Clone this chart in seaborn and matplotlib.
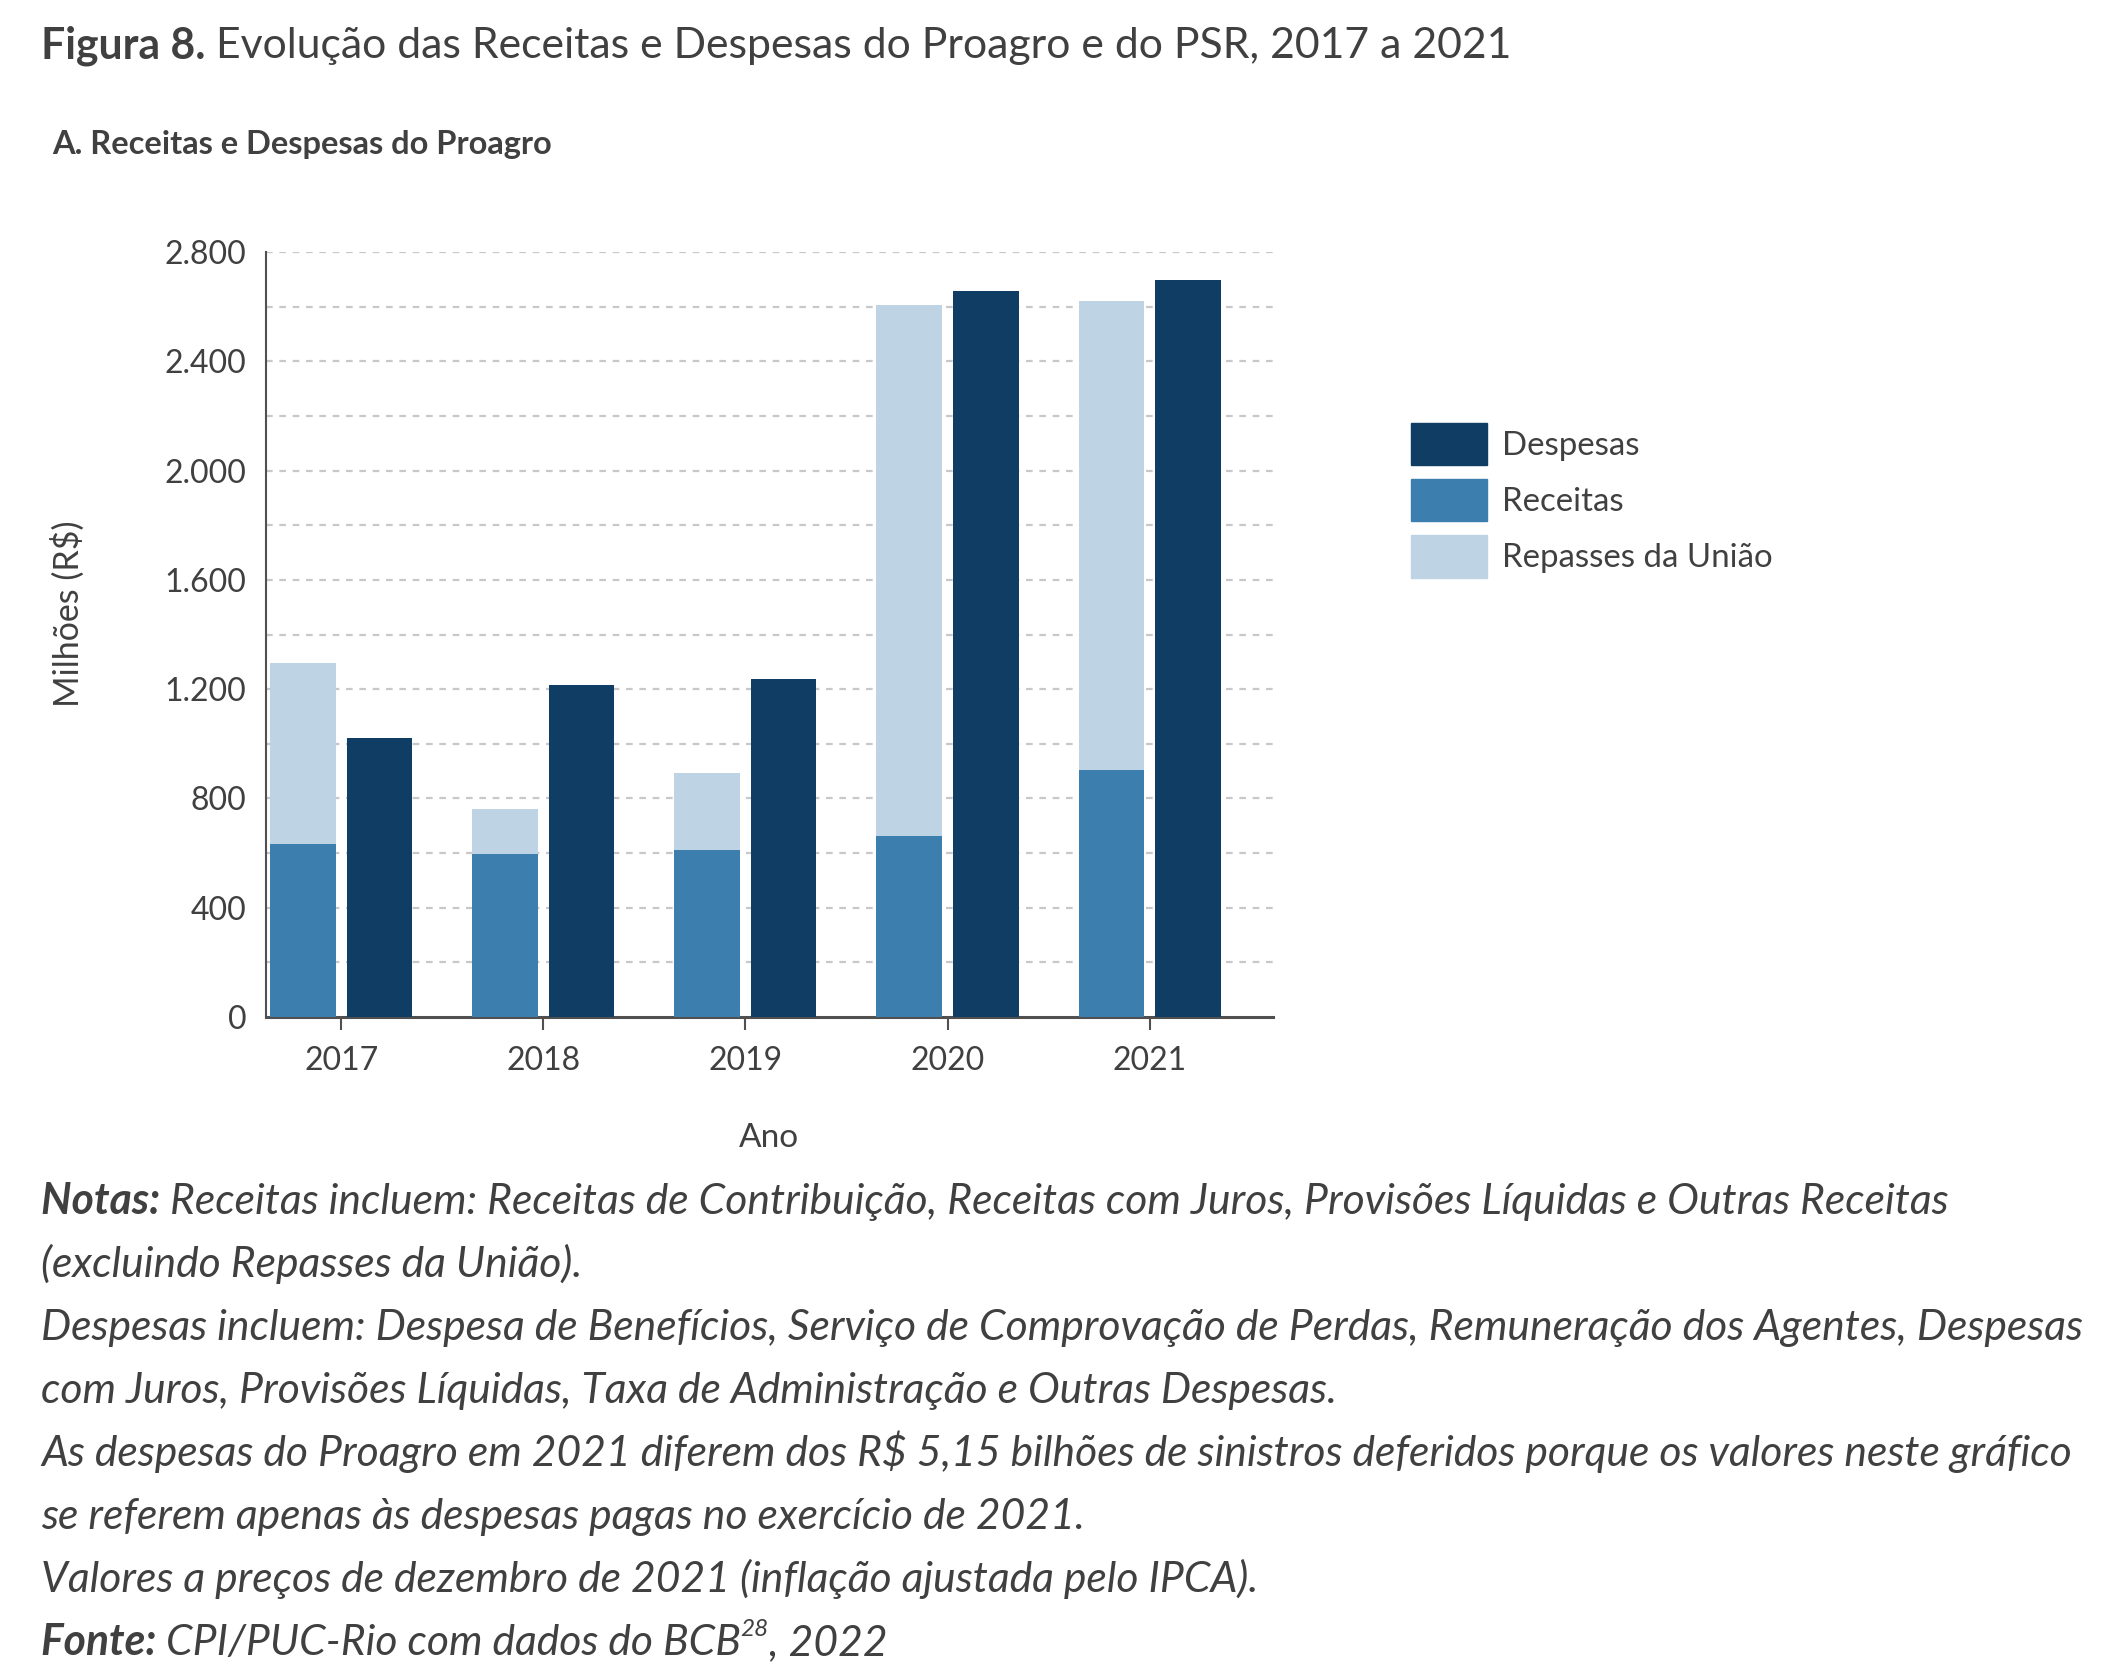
import matplotlib
matplotlib.use("Agg")
import matplotlib.pyplot as plt
import matplotlib.patches as mpatches
import seaborn as sns
import pandas as pd

# dados (milhões de R$)
anos = ["2017", "2018", "2019", "2020", "2021"]
receitas = [633, 597, 611, 663, 903]
repasses = [661, 164, 284, 1944, 1718]
despesas = [1023, 1214, 1239, 2658, 2696]

yticks = [0, 400, 800, 1200, 1600, 2000, 2400, 2800]
ytick_labels = ["0", "400", "800", "1.200", "1.600", "2.000", "2.400", "2.800"]

c_desp = "#0f3d63"
c_rec = "#3c7eae"
c_rep = "#bed4e4"
c_txt = "#404040"

sns.set_theme(style="white")
plt.rcParams["font.family"] = ["Lato", "DejaVu Sans"]
plt.rcParams["text.color"] = c_txt

fig = plt.figure(figsize=(21.26, 16.8), dpi=100)
ax = fig.add_axes([0.1251, 0.3946, 0.4736, 0.4554])

totais = [r + p for r, p in zip(receitas, repasses)]
topo = pd.DataFrame({
    "ano": anos * 2,
    "grupo": ["pilha"] * 5 + ["Despesas"] * 5,
    "valor": totais + despesas,
})
base = pd.DataFrame({
    "ano": anos * 2,
    "grupo": ["pilha"] * 5 + ["Despesas"] * 5,
    "valor": receitas + [0] * 5,
})
ordem = ["pilha", "Despesas"]

sns.barplot(data=topo, x="ano", y="valor", hue="grupo", hue_order=ordem,
            palette={"pilha": c_rep, "Despesas": c_desp}, width=0.76, gap=0.15,
            saturation=1, errorbar=None, linewidth=0, legend=False, ax=ax, zorder=3)
sns.barplot(data=base, x="ano", y="valor", hue="grupo", hue_order=ordem,
            palette={"pilha": c_rec, "Despesas": c_desp}, width=0.76, gap=0.15,
            saturation=1, errorbar=None, linewidth=0, legend=False, ax=ax, zorder=4)

ax.set_ylim(0, 2800)
ax.set_xlim(-0.373, 4.61)
ax.set_yticks(yticks)
ax.set_yticklabels(ytick_labels)
for v in range(200, 2801, 200):
    ax.axhline(v, color="#c8c8c8", lw=1.6, ls=(0, (3, 3)), zorder=1)

for s in ["top", "right"]:
    ax.spines[s].set_visible(False)
ax.spines["left"].set_color("#505050")
ax.spines["left"].set_linewidth(1.5)
ax.spines["bottom"].set_color("#505050")
ax.spines["bottom"].set_linewidth(2.2)
ax.tick_params(axis="y", length=0, pad=14, labelsize=23, labelcolor=c_txt)
ax.tick_params(axis="x", length=9, width=1.5, color="#505050", pad=12,
               labelsize=23, labelcolor=c_txt, bottom=True)
ax.set_xlabel("Ano", fontsize=24, color=c_txt, labelpad=34)
ax.set_ylabel("")
fig.text(68 / 2126, 1 - 614 / 1680, "Milhões (R$)", rotation=90, fontsize=24.5,
         color=c_txt, ha="center", va="center")

handles = [mpatches.Patch(color=c_desp, label="Despesas"),
           mpatches.Patch(color=c_rec, label="Receitas"),
           mpatches.Patch(color=c_rep, label="Repasses da União")]
fig.legend(handles=handles, loc="upper left", bbox_to_anchor=(0.6636, 0.7485),
           frameon=False, fontsize=23.8, handlelength=2.3, handleheight=1.6,
           labelspacing=0.42, handletextpad=0.45, labelcolor=c_txt,
           borderpad=0, borderaxespad=0)

fig.canvas.draw()
renderer = fig.canvas.get_renderer()


def linha(x_px, y_px, pecas):
    # desenha pedaços de texto lado a lado numa linha
    x = x_px
    for texto, estilo in pecas:
        t = fig.text(x / 2126, 1 - y_px / 1680, texto, va="baseline", ha="left",
                     color=c_txt, **estilo)
        bb = t.get_window_extent(renderer)
        x = bb.x1


linha(41, 58, [("Figura 8. ", dict(fontsize=30.8, fontweight="bold")),
               ("Evolução das Receitas e Despesas do Proagro e do PSR, 2017 a 2021",
                dict(fontsize=30.8))])
linha(52, 154, [("A. Receitas e Despesas do Proagro", dict(fontsize=23.5, fontweight="bold"))])

nota = dict(fontsize=30.7, style="italic")
negr = dict(fontsize=30.7, style="italic", fontweight="bold")
y0 = 1214
dy = 63
linha(41, y0, [("Notas: ", negr),
               ("Receitas incluem: Receitas de Contribuição, Receitas com Juros, Provisões Líquidas e Outras Receitas", nota)])
linha(41, y0 + dy, [("(excluindo Repasses da União).", nota)])
linha(41, y0 + 2 * dy, [("Despesas incluem: Despesa de Benefícios, Serviço de Comprovação de Perdas, Remuneração dos Agentes, Despesas", nota)])
linha(41, y0 + 3 * dy, [("com Juros, Provisões Líquidas, Taxa de Administração e Outras Despesas.", nota)])
linha(41, y0 + 4 * dy, [("As despesas do Proagro em 2021 diferem dos R$ 5,15 bilhões de sinistros deferidos porque os valores neste gráfico", nota)])
linha(41, y0 + 5 * dy, [("se referem apenas às despesas pagas no exercício de 2021.", nota)])
linha(41, y0 + 6 * dy, [("Valores a preços de dezembro de 2021 (inflação ajustada pelo IPCA).", nota)])

x = 41
t = fig.text(x / 2126, 1 - (y0 + 7 * dy) / 1680, "Fonte: ", va="baseline", color=c_txt, **negr)
x = t.get_window_extent(renderer).x1
t = fig.text(x / 2126, 1 - (y0 + 7 * dy) / 1680, "CPI/PUC-Rio com dados do BCB", va="baseline", color=c_txt, **nota)
x = t.get_window_extent(renderer).x1
t = fig.text(x / 2126, 1 - (y0 + 7 * dy - 19) / 1680, "28", va="baseline", color=c_txt,
             fontsize=17.5, style="italic")
x = t.get_window_extent(renderer).x1
fig.text(x / 2126, 1 - (y0 + 7 * dy) / 1680, ", 2022", va="baseline", color=c_txt, **nota)

fig.savefig("out.png", dpi=100)
